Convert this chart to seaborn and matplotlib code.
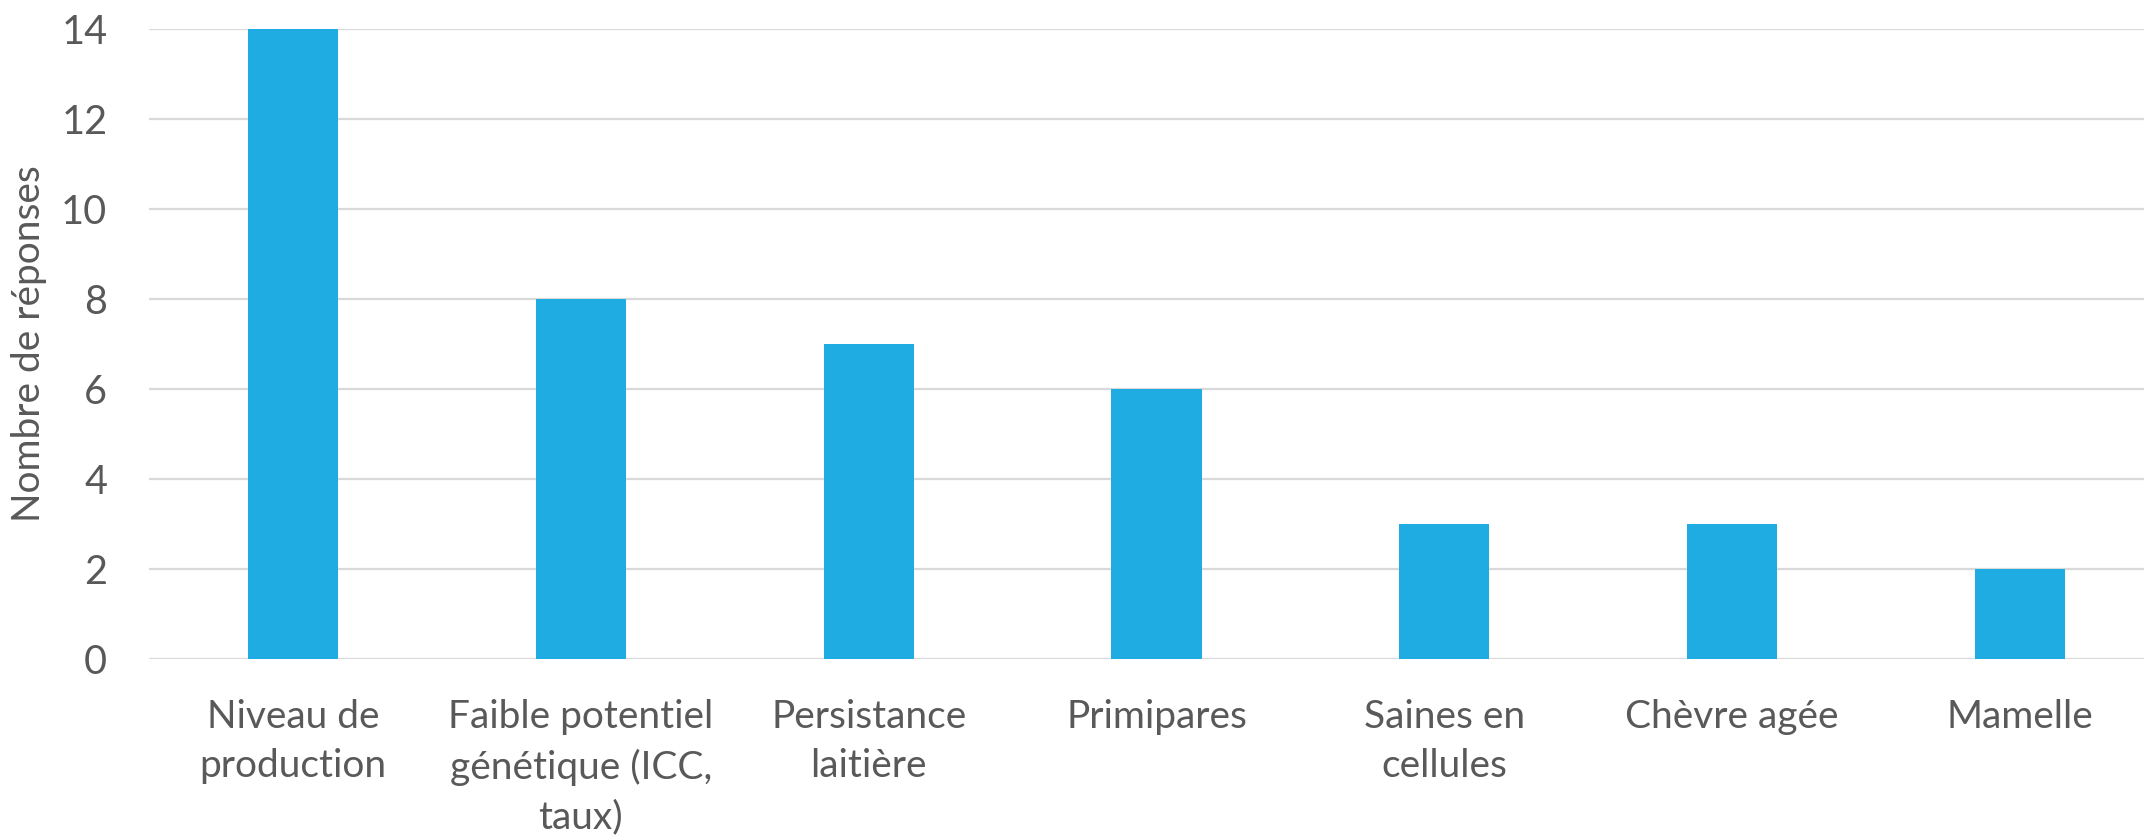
import matplotlib
matplotlib.use('Agg')
import matplotlib.pyplot as plt
import seaborn as sns
import pandas as pd

# Data
categories = ['Niveau de\nproduction', 'Faible potentiel\ngénétique (ICC,\ntaux)',
              'Persistance\nlaitière', 'Primipares', 'Saines en\ncellules',
              'Chèvre agée', 'Mamelle']
responses = [14, 8, 7, 6, 3, 3, 2]
y_ticks = [0, 2, 4, 6, 8, 10, 12, 14]

df = pd.DataFrame({'cat': categories, 'n': responses})

sns.set_style('white')
plt.rcParams['font.family'] = ['Lato', 'DejaVu Sans']

text_col = '#595959'
bar_col = '#1FACE3'
grid_col = '#D9D9D9'

fig = plt.figure(figsize=(21.44, 8.36), dpi=100)
ax = fig.add_axes([149 / 2144, 177 / 836, 2015 / 2144, 630 / 836])

sns.barplot(data=df, x='cat', y='n', color=bar_col, width=0.313,
            saturation=1, linewidth=0, ax=ax, zorder=3)

ax.set_xlim(-0.5, len(categories) - 0.5)
ax.set_ylim(0, 14)
ax.set_yticks(y_ticks)
ax.yaxis.grid(True, color=grid_col, linewidth=1.6, zorder=0)
ax.set_axisbelow(True)
for s in ax.spines.values():
    s.set_visible(False)

ax.tick_params(axis='y', length=0, pad=30, labelsize=28.5, labelcolor=text_col)
ax.tick_params(axis='x', length=0, pad=29, labelsize=28, labelcolor=text_col)
for lab in ax.get_xticklabels():
    lab.set_linespacing(1.45)

ax.set_xlabel('')
ax.set_ylabel('Nombre de réponses', fontsize=28, color=text_col, labelpad=10)

fig.savefig('out.png', dpi=100)
